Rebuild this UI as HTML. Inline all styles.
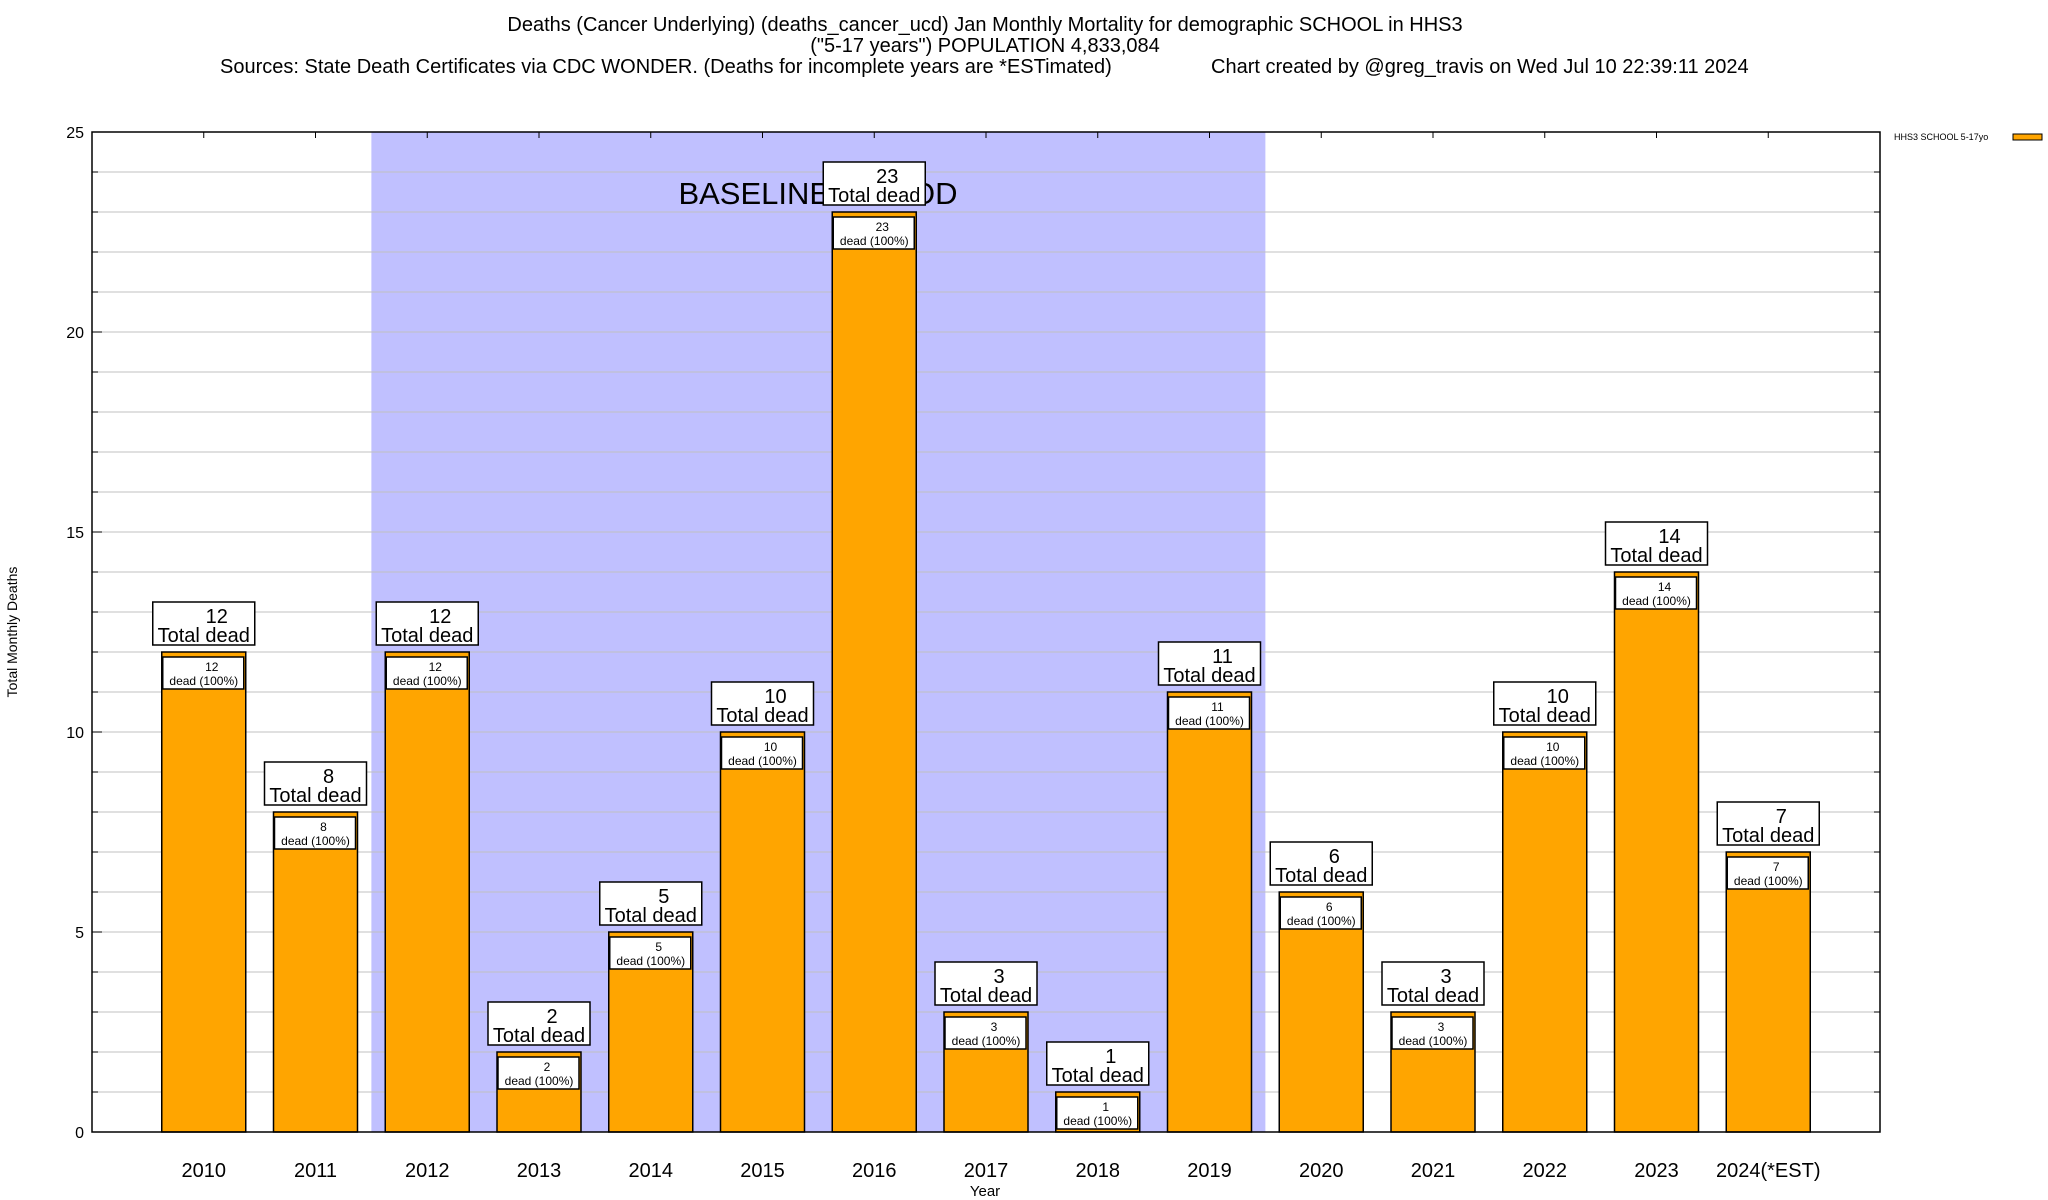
<!DOCTYPE html>
<html><head><meta charset="utf-8">
<style>
body{margin:0;background:#fff;}
svg{display:block;font-family:"Liberation Sans",sans-serif;}
</style></head>
<body>
<svg id="chart" width="2048" height="1200" viewBox="0 0 2048 1200" xmlns="http://www.w3.org/2000/svg">
<g font-size="20" fill="#000">
<text x="985" y="31" text-anchor="middle">Deaths (Cancer Underlying) (deaths_cancer_ucd) Jan Monthly Mortality for demographic SCHOOL in HHS3</text>
<text x="985" y="52" text-anchor="middle">("5-17 years") POPULATION 4,833,084</text>
<text x="220" y="73">Sources: State Death Certificates via CDC WONDER. (Deaths for incomplete years are *ESTimated)</text>
<text x="1211" y="73">Chart created by @greg_travis on Wed Jul 10 22:39:11 2024</text>
</g>
<g id="plot"></g>
<g>
<text x="1894" y="140" font-size="9">HHS3 SCHOOL 5-17yo</text>
<rect x="2013" y="134" width="29" height="6" fill="#ffa500" stroke="#000" stroke-width="1"/>
</g>
<text x="17" y="632" font-size="14" text-anchor="middle" transform="rotate(-90 17 632)">Total Monthly Deaths</text>
<text x="985" y="1196" font-size="15" text-anchor="middle">Year</text>
</svg>
<script>
const categories=["2010","2011","2012","2013","2014","2015","2016","2017","2018","2019","2020","2021","2022","2023","2024(*EST)"];
const deaths=[12,8,12,2,5,10,23,3,1,11,6,3,10,14,7];
const yTicks=[0,5,10,15,20,25];
const baselineStart=1.5, baselineEnd=9.5;

const L=92,R=1880,T=132,B=1132,yMax=25;
const xs=i=>L+(i+1)*(R-L)/16;
const ys=v=>B-v*(B-T)/yMax;
const NS="http://www.w3.org/2000/svg";
const g=document.getElementById('plot');
function mk(tag,attrs,parent){const e=document.createElementNS(NS,tag);for(const k in attrs)e.setAttribute(k,attrs[k]);(parent||g).appendChild(e);return e;}

const sh=mk('rect',{x:xs(baselineStart),y:T,width:xs(baselineEnd)-xs(baselineStart),height:B-T,fill:'#c0c0ff'});



for(let v=1;v<yMax;v++){
  const gl=mk('line',{x1:L,x2:R,y1:ys(v),y2:ys(v),stroke:'#c0c0c0','stroke-width':1});
  
  
  mk('line',{x1:L,x2:L+6,y1:ys(v),y2:ys(v),stroke:'#000'});
  mk('line',{x1:R,x2:R-6,y1:ys(v),y2:ys(v),stroke:'#000'});
}
yTicks.forEach(t=>{
  const tl=mk('text',{x:84,y:ys(t)+6,'font-size':16,'text-anchor':'end'});
  tl.textContent=t;
  
  
  mk('line',{x1:L,x2:L+10,y1:ys(t),y2:ys(t),stroke:'#000'});
});

const bt=mk('text',{x:818,y:204,'font-size':31,'text-anchor':'middle'});
bt.textContent='BASELINE PERIOD';



const bw=84;
categories.forEach((c,i)=>{
  const cx=xs(i),v=deaths[i],top=ys(v);
  mk('line',{x1:cx,x2:cx,y1:T,y2:T+6,stroke:'#000'});
  const bar=mk('rect',{x:cx-bw/2,y:top,width:bw,height:B-top,fill:'#ffa500',stroke:'#000','stroke-width':1.5});
  
  
  const ib=mk('rect',{x:cx-41,y:top+5,width:81,height:32,fill:'#fff',stroke:'#000','stroke-width':1.5});
  
  
  const t1=mk('text',{x:cx+8,y:top+19,'font-size':12,'text-anchor':'middle'});t1.textContent=v;
  
  
  const t2=mk('text',{x:cx,y:top+33,'font-size':12,'text-anchor':'middle'});t2.textContent='dead (100%)';
  
  
  const ob=mk('rect',{x:cx-51,y:top-50,width:102,height:43,fill:'#fff',stroke:'#000','stroke-width':1.5});
  
  
  const o1=mk('text',{x:cx+13,y:top-29,'font-size':20,'text-anchor':'middle'});o1.textContent=v;
  
  
  const o2=mk('text',{x:cx,y:top-10,'font-size':20,'text-anchor':'middle'});o2.textContent='Total dead';
  
  
  const xl=mk('text',{x:cx,y:1177,'font-size':20,'text-anchor':'middle'});xl.textContent=c;
  
  
});
const fr=mk('rect',{x:L,y:T,width:R-L,height:B-T,fill:'none',stroke:'#000','stroke-width':1.5});


</script>
</body></html>
